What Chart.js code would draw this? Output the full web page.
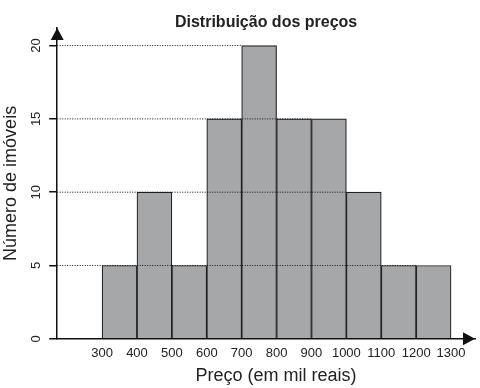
<!DOCTYPE html>
<html lang="pt-BR">
<head>
<meta charset="utf-8">
<title>Distribuição dos preços</title>
<script src="https://cdn.jsdelivr.net/npm/chart.js@4.4.3/dist/chart.umd.min.js"></script>
<style>
  html, body { margin: 0; padding: 0; background: #fff; }
  canvas { display: block; }
</style>
</head>
<body>
<canvas id="price-histogram" width="480" height="388"></canvas>
<script>
// histogram data

const binEdges = [300, 400, 500, 600, 700, 800, 900, 1000, 1100, 1200, 1300];
const binCounts = [5, 10, 5, 15, 20, 15, 15, 10, 5, 5];
const yTickValues = [0, 5, 10, 15, 20];
const guideLevels = [5, 10, 15, 20];

// the axes run a bit past the data so the arrows have room
const xMin = 171.4;
const xMax = 1368.6;
const yMax = 21.2;

const fontFamily = '"Liberation Sans", Arial, Helvetica, sans-serif';
const inkColor = '#111';
const textColor = '#222';

// one bar per bin, centred in the bin
const barData = binCounts.map((count, i) => ({ x: (binEdges[i] + binEdges[i + 1]) / 2, y: count }));

// dotted guide from the y axis to the last bin that reaches each level
const guideData = guideLevels.map((level) => {
    const lastBin = binCounts.reduce((last, count, i) => (count >= level ? i : last), 0);
    return [{ x: xMin, y: level }, { x: binEdges[lastBin], y: level }];
});

// arrow heads at the ends of both axes
const axisArrows = {
    id: 'axisArrows',
    afterDraw(chart) {
        const { ctx, chartArea: { left, top, right, bottom } } = chart;
        ctx.save();
        ctx.fillStyle = inkColor;
        ctx.beginPath();
        ctx.moveTo(left, top);
        ctx.lineTo(left - 6.5, top + 12);
        ctx.lineTo(left + 6.5, top + 12);
        ctx.closePath();
        ctx.fill();
        ctx.beginPath();
        ctx.moveTo(right, bottom);
        ctx.lineTo(right - 12, bottom - 6.5);
        ctx.lineTo(right - 12, bottom + 6.5);
        ctx.closePath();
        ctx.fill();
        ctx.restore();
    },
};

function main() {
    const ctx = document.getElementById('price-histogram');

    const datasets = guideData.map((points) => ({
        type: 'line',
        data: points,
        borderColor: inkColor,
        borderWidth: 1,
        borderDash: [1, 1.5],
        pointRadius: 0,
        fill: false,
        order: 0,
    }));
    datasets.push({
        type: 'bar',
        data: barData,
        backgroundColor: '#a6a7a9',
        borderColor: '#222',
        borderWidth: 1.2,
        barPercentage: 1,
        categoryPercentage: 1,
        grouped: false,
        order: 1,
    });

    new Chart(ctx, {
        type: 'bar',
        data: { datasets },
        options: {
            responsive: false,
            animation: false,
            devicePixelRatio: 1,
            layout: { padding: { left: 0, right: 5, top: 0, bottom: 0 } },
            scales: {
                x: {
                    type: 'linear',
                    position: 'bottom',
                    offset: false,
                    min: xMin,
                    max: xMax,
                    afterBuildTicks: (scale) => { scale.ticks = binEdges.map((v) => ({ value: v })); },
                    ticks: {
                        autoSkip: false,
                        minRotation: 0,
                        maxRotation: 0,
                        padding: 7,
                        color: textColor,
                        font: { family: fontFamily, size: 13 },
                        callback: (v) => String(v),
                    },
                    grid: { display: false, drawTicks: false },
                    border: { display: true, color: inkColor, width: 1.5, z: 1 },
                    title: {
                        display: true,
                        // leading spaces: the label sits centred under the 300-1300 span
                        text: '    Preço (em mil reais)',
                        color: textColor,
                        font: { family: fontFamily, size: 18 },
                        padding: { top: -3, bottom: 1 },
                    },
                },
                y: {
                    position: 'left',
                    min: 0,
                    max: yMax,
                    afterBuildTicks: (scale) => { scale.ticks = yTickValues.map((v) => ({ value: v })); },
                    ticks: {
                        minRotation: 90,
                        maxRotation: 90,
                        crossAlign: 'center',
                        padding: 6,
                        color: textColor,
                        font: { family: fontFamily, size: 13 },
                        callback: (v) => String(v),
                    },
                    grid: {
                        display: true,
                        drawOnChartArea: false,
                        drawTicks: true,
                        tickLength: 8,
                        color: inkColor,
                        lineWidth: 1.5,
                    },
                    border: { display: true, color: inkColor, width: 1.5, z: 1 },
                    title: {
                        display: true,
                        text: 'Número de imóveis',
                        color: textColor,
                        font: { family: fontFamily, size: 18 },
                        padding: { top: 0, bottom: 0 },
                    },
                },
            },
            plugins: {
                legend: { display: false },
                tooltip: { enabled: false },
                title: {
                    display: true,
                    fullSize: false,
                    text: 'Distribuição dos preços',
                    color: textColor,
                    font: { family: fontFamily, size: 16, weight: 'bold', lineHeight: 1 },
                    padding: { top: 15, bottom: -3 },
                },
            },
        },
        plugins: [axisArrows],
    });
}

main();
</script>
</body>
</html>
